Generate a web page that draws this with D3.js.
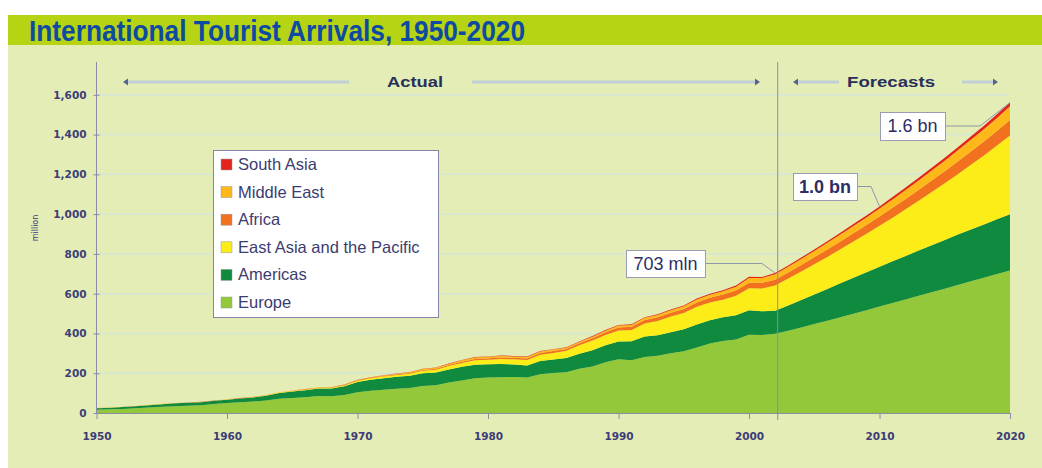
<!DOCTYPE html>
<html>
<head>
<meta charset="utf-8">
<script src="https://cdn.jsdelivr.net/npm/d3@7"></script>
<style>
  body { margin: 0; background: #ffffff; }
  svg { display: block; }
</style>
</head>
<body>
<div id="chart"></div>
<script>
// years 1950..2020, one value per year (million arrivals)
const years = d3.range(1950, 2021);

const europe = [
  16.8, 18.5, 20.6, 23.4, 27.2, 31.6, 34.5, 36.8, 39.2, 45.0,
  50.0, 54, 58, 63, 72, 76, 79, 85, 84, 91,
  104, 112, 117, 122, 126, 136, 139, 153, 164, 175,
  178, 180, 181, 178, 195, 201, 205, 222, 234, 255,
  270, 265, 282, 288, 300, 311, 330, 350, 362, 370,
  393, 392, 398, 414, 430, 447, 464, 481, 499, 517,
  535, 553, 571, 589, 607, 625, 644, 662, 680, 699,
  717];
const americas = [
  7.5, 8.5, 9.3, 10.4, 11.5, 13.0, 14.0, 14.6, 15.1, 16.1,
  16.7, 18.5, 20.5, 24, 29, 32, 35.5, 38.5, 39.5, 43,
  52, 55, 58, 60, 61, 64, 65, 66, 68, 68,
  67, 67, 63, 61, 67, 68, 72, 76, 81, 86,
  89, 96, 103, 103, 106, 110, 115, 117, 119, 122,
  124, 120, 116, 127, 138, 149, 160, 171, 181, 191,
  201, 210, 219, 228, 237, 245, 253, 261, 268, 275,
  282];
const eastAsia = [
  0.2, 0.2, 0.3, 0.3, 0.3, 0.4, 0.4, 0.5, 0.5, 0.6,
  0.7, 0.9, 1.1, 1.3, 1.6, 2.2, 2.7, 3.3, 3.9, 4.8,
  6.1, 7.2, 8.5, 9.5, 10.3, 12, 14, 17, 20, 22,
  23, 24.5, 26, 27, 31, 33, 36, 43, 49, 51,
  56, 57, 65, 72, 79, 82, 89, 89, 89, 98,
  110, 114, 127, 135, 143, 152, 161, 171, 182, 193,
  205, 219, 234, 250, 267, 285, 304, 325, 347, 371,
  397];
const africa = [
  0.5, 0.5, 0.5, 0.6, 0.6, 0.6, 0.6, 0.6, 0.7, 0.7,
  0.8, 0.8, 0.9, 1.0, 1.1, 1.3, 1.4, 1.6, 1.7, 2.0,
  2.4, 2.6, 2.8, 3.2, 3.8, 4.7, 5.0, 5.6, 6.2, 6.9,
  7.2, 7.9, 7.6, 8.4, 8.8, 9.7, 9.3, 9.8, 12.5, 13.8,
  15.2, 16, 17.9, 18.5, 18.9, 20, 21.8, 23.2, 25.5, 26.6,
  28.3, 28.9, 29.1, 31, 33, 35, 37, 39.5, 42, 44.5,
  47, 49.5, 52, 55, 58, 61, 64, 67, 70, 73.5,
  77];
const middleEast = [
  0.2, 0.2, 0.2, 0.2, 0.3, 0.3, 0.4, 0.4, 0.4, 0.5,
  0.6, 0.6, 0.7, 0.8, 0.9, 1.1, 1.1, 1.2, 1.3, 1.5,
  1.9, 2.1, 2.4, 2.7, 3.3, 4.0, 4.4, 5.4, 6.8, 7.2,
  7.1, 7.3, 7.1, 7.4, 7.8, 7.0, 6.2, 6.6, 7.5, 8.0,
  9.6, 8.6, 10.5, 11.5, 12.7, 13.7, 15.3, 15.6, 16.2, 18.2,
  24.0, 23.5, 27.6, 29, 30.5, 32, 33.5, 35, 36.5, 38,
  40, 42.5, 45, 47.5, 50, 53, 56, 59, 62, 65.5,
  69];
const southAsia = [
  0.1, 0.1, 0.1, 0.1, 0.1, 0.1, 0.1, 0.1, 0.1, 0.1,
  0.2, 0.2, 0.2, 0.3, 0.3, 0.4, 0.4, 0.5, 0.6, 0.7,
  0.9, 1.0, 1.1, 1.2, 1.3, 1.5, 1.6, 1.8, 2.0, 2.1,
  2.2, 2.3, 2.3, 2.4, 2.5, 2.5, 2.5, 2.6, 2.9, 3.0,
  3.2, 3.3, 3.6, 3.8, 4.0, 4.2, 4.5, 4.8, 5.3, 5.8,
  6.1, 5.8, 5.8, 6.3, 6.9, 7.5, 8.1, 8.7, 9.4, 10.2,
  11, 11.7, 12.4, 13.1, 13.9, 14.7, 15.5, 16.3, 17.2, 18.1,
  19];

const regions = ['Europe', 'Americas', 'East Asia and the Pacific', 'Africa', 'Middle East', 'South Asia'];
const regionSeries = [europe, americas, eastAsia, africa, middleEast, southAsia];
const regionColors = ['#93c83a', '#0f8a3f', '#fcec18', '#f2711f', '#ffb81a', '#e3231c'];

const yTicks = [0, 200, 400, 600, 800, 1000, 1200, 1400, 1600];
const xTicks = [1950, 1960, 1970, 1980, 1990, 2000, 2010, 2020];
const forecastStart = 2002.2;

const callouts = [
  { label: '703 mln', year: 2002, bold: false },
  { label: '1.0 bn', year: 2010, bold: true },
  { label: '1.6 bn', year: 2020, bold: false }
];

const W = 1042, H = 468;
const svg = d3.select('#chart')
  .append('svg')
  .attr('width', W)
  .attr('height', H);

// panel + title band
svg.append('rect').attr('x', 8).attr('y', 15).attr('width', W - 8).attr('height', H - 15).attr('fill', '#e5edb6');
svg.append('rect').attr('x', 8).attr('y', 15).attr('width', W - 8).attr('height', 30).attr('fill', '#b6d413');
svg.append('text')
  .attr('x', 29).attr('y', 41)
  .attr('font-family', '"Liberation Sans Narrow", "Liberation Sans", Arial, sans-serif')
  .attr('font-weight', 'bold')
  .attr('font-size', '30px')
  .attr('textLength', 496)
  .attr('lengthAdjust', 'spacingAndGlyphs')
  .attr('fill', '#0d4ba3')
  .text('International Tourist Arrivals, 1950-2020');

// scales
const x = d3.scaleLinear().domain([1950, 2020]).range([96.5, 1010]);
const y = d3.scaleLinear().domain([0, 1760]).range([413, 63]);

// gridlines
svg.append('g')
  .selectAll('line')
  .data(yTicks.filter(d => d > 0))
  .enter()
  .append('line')
  .attr('x1', x(1950)).attr('x2', x(2020))
  .attr('y1', d => y(d)).attr('y2', d => y(d))
  .attr('stroke', '#d3e8d6')
  .attr('stroke-width', 1.5);

// stacked areas
const table = years.map((yr, i) => {
  const row = { year: yr };
  regions.forEach((r, j) => { row[r] = regionSeries[j][i]; });
  return row;
});
const stacked = d3.stack().keys(regions)(table);
const area = d3.area()
  .x(d => x(d.data.year))
  .y0(d => y(d[0]))
  .y1(d => y(d[1]));

svg.append('g')
  .selectAll('path')
  .data(stacked)
  .enter()
  .append('path')
  .attr('d', area)
  .attr('fill', (d, i) => regionColors[i]);

// axes
const axisColor = '#8a8ca8';
const labelFont = '"DejaVu Sans", Verdana, sans-serif';
const yAxis = svg.append('g')
  .attr('transform', `translate(${x(1950)},0)`)
  .call(d3.axisLeft(y).tickValues(yTicks).tickSize(3).tickFormat(d3.format(',')).tickSizeOuter(0));
yAxis.select('.domain').attr('d', `M0,${y(0)}V62`).attr('stroke', axisColor);
yAxis.selectAll('.tick line').attr('stroke', axisColor).attr('x2', 3).attr('x1', -3);
yAxis.selectAll('.tick text')
  .attr('x', -10)
  .attr('font-family', labelFont)
  .attr('font-weight', 'bold')
  .attr('font-size', '10.5px')
  .attr('fill', '#3c3c78');

const xAxis = svg.append('g')
  .attr('transform', `translate(0,${y(0)})`)
  .call(d3.axisBottom(x).tickValues(xTicks).tickFormat(d3.format('d')).tickSize(6).tickSizeOuter(0));
xAxis.select('.domain').attr('stroke', axisColor);
xAxis.selectAll('.tick line').attr('stroke', axisColor);
xAxis.selectAll('.tick text')
  .attr('y', 20)
  .attr('font-family', labelFont)
  .attr('font-weight', 'bold')
  .attr('font-size', '10.5px')
  .attr('fill', '#3c3c78');

// y label
svg.append('text')
  .attr('transform', 'translate(38,228) rotate(-90)')
  .attr('text-anchor', 'middle')
  .attr('font-family', labelFont)
  .attr('font-size', '8px')
  .attr('fill', '#3c3c78')
  .text('million');

// actual / forecast divider
svg.append('line')
  .attr('x1', x(forecastStart)).attr('x2', x(forecastStart))
  .attr('y1', 62).attr('y2', 420)
  .attr('stroke', '#8a8cae')
  .attr('stroke-width', 1);

// period headers with arrow bars
const barColor = '#bfcfd6';
const headColor = '#55658a';
const bars = [[126, 349], [472, 757], [796, 839], [962, 995]];
svg.append('g')
  .selectAll('line')
  .data(bars)
  .enter()
  .append('line')
  .attr('x1', d => d[0]).attr('x2', d => d[1])
  .attr('y1', 82).attr('y2', 82)
  .attr('stroke', barColor)
  .attr('stroke-width', 3);
const heads = [[126, -1], [757, 1], [796, -1], [995, 1]];
svg.append('g')
  .selectAll('path')
  .data(heads)
  .enter()
  .append('path')
  .attr('d', d => `M${d[0] + d[1] * 3},82 L${d[0] - d[1] * 2},78.5 L${d[0] - d[1] * 2},85.5 Z`)
  .attr('fill', headColor);
[['Actual', 415, 56], ['Forecasts', 891, 88]].forEach(h => {
  svg.append('text')
    .attr('x', h[1]).attr('y', 87)
    .attr('text-anchor', 'middle')
    .attr('font-family', '"Liberation Sans", Arial, sans-serif')
    .attr('font-weight', 'bold')
    .attr('font-size', '15px')
    .attr('textLength', h[2])
    .attr('lengthAdjust', 'spacingAndGlyphs')
    .attr('fill', '#27305a')
    .text(h[0]);
});

// legend
const legend = svg.append('g');
legend.append('rect')
  .attr('x', 213.5).attr('y', 150.5).attr('width', 225).attr('height', 167)
  .attr('fill', '#ffffff')
  .attr('stroke', '#8486a6');
const legendItems = regions.map((r, i) => ({ name: r, color: regionColors[i] })).reverse();
const items = legend.selectAll('g.item')
  .data(legendItems)
  .enter()
  .append('g')
  .attr('class', 'item')
  .attr('transform', (d, i) => `translate(221,${165 + i * 27.6})`);
items.append('rect')
  .attr('x', 0).attr('y', -6).attr('width', 11).attr('height', 11)
  .attr('fill', d => d.color)
  .attr('stroke', '#9a9a9a')
  .attr('stroke-width', 0.5);
items.append('text')
  .attr('x', 17).attr('y', 5)
  .attr('font-family', '"Liberation Sans", Arial, sans-serif')
  .attr('font-size', '16.5px')
  .attr('fill', '#3c3c70')
  .text(d => d.name);

// callouts
const boxes = [
  { x: 626, y: 250, w: 79, h: 27, elbow: 762 },
  { x: 793, y: 173, w: 64, h: 27, elbow: 871 },
  { x: 880, y: 112, w: 65, h: 28, elbow: 980 }
];
callouts.forEach((c, i) => {
  const b = boxes[i];
  const idx = years.indexOf(c.year);
  const total = d3.sum(regionSeries, s => s[idx]);
  const ax = x(c.year), ay = y(total);
  const my = b.y + b.h / 2;
  svg.append('path')
    .attr('d', `M${b.x + b.w},${my} L${b.elbow},${my} L${ax},${ay}`)
    .attr('fill', 'none')
    .attr('stroke', '#8e96aa')
    .attr('stroke-width', 1);
  svg.append('rect')
    .attr('x', b.x + 0.5).attr('y', b.y + 0.5).attr('width', b.w).attr('height', b.h)
    .attr('fill', '#ffffff')
    .attr('stroke', '#9a9cb4');
  svg.append('text')
    .attr('x', b.x + b.w / 2).attr('y', b.y + b.h / 2 + 6)
    .attr('text-anchor', 'middle')
    .attr('font-family', '"Liberation Sans", Arial, sans-serif')
    .attr('font-weight', c.bold ? 'bold' : 'normal')
    .attr('font-size', '18px')
    .attr('fill', '#2d2d66')
    .text(c.label);
});
</script>
</body>
</html>
